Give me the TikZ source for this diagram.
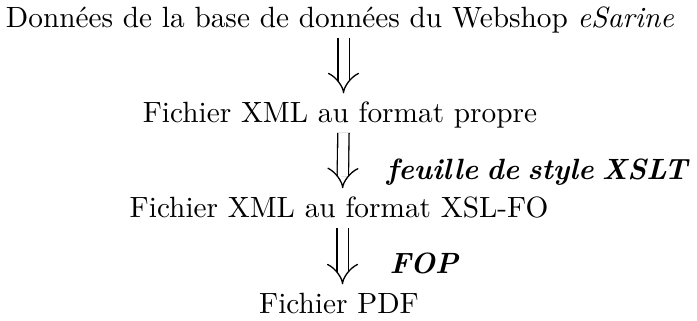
\documentclass[tikz,border=0pt]{standalone}
\usepackage{tikz}
\usetikzlibrary{arrows.meta}

\begin{document}
\begin{tikzpicture}[x=0.3413pt, y=0.3413pt]
        \def\decal{1.2pt}
        \tikzset{
            etape/.style={inner sep=0pt, anchor=base, text height=7pt, text depth=2pt},
            outil/.style={inner sep=0pt, anchor=base west, font=\bfseries\itshape},
            fleche/.style={double, double distance=3.4pt, line width=0.45pt,
                -{Implies[length=9pt, width=13pt]}, shorten <=1.5pt, shorten >=2.6pt}
        }
        \useasboundingbox (0,0) rectangle (697,320);

        \node [etape] (base) at (340,293) {Données de la base de données du Webshop \textit{eSarine}};
        \node [etape] (propre) at (340,198) {Fichier XML au format propre};
        \node [etape] (xslfo) at (339,103) {Fichier XML au format XSL-FO};
        \node [etape] (pdf) at (339,7) {Fichier PDF};

        \node [outil] (xslt) at (386,141) {\spaceskip=2.8pt feuille de style XSLT};
        \node [outil] (fop) at (389,47) {FOP};

        \draw [fleche] ([xshift=\decal]base.south) -- ([xshift=\decal]propre.north);
        \draw [fleche] ([xshift=\decal]propre.south) -- ([xshift=\decal]xslfo.north);
        \draw [fleche] ([xshift=\decal]xslfo.south) -- ([xshift=\decal]pdf.north);
    \end{tikzpicture}
\end{document}
